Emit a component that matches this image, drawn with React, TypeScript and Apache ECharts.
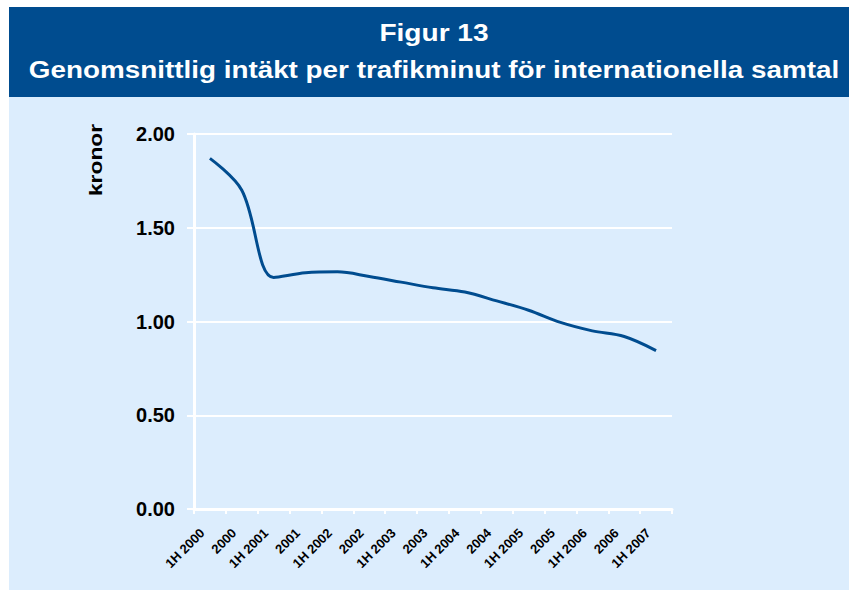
import React, { useEffect, useRef } from "react";
import * as echarts from "echarts";

const categories = [
  "1H 2000", "2000", "1H 2001", "2001", "1H 2002", "2002", "1H 2003", "2003",
  "1H 2004", "2004", "1H 2005", "2005", "1H 2006", "2006", "1H 2007",
];
const values = [1.87, 1.7, 1.235, 1.26, 1.265, 1.24, 1.21, 1.18, 1.157, 1.11, 1.06, 0.995, 0.95, 0.92, 0.845];
const yTicks = { min: 0, max: 2, interval: 0.5 };
const titleLine1 = "Figur 13";
const titleLine2 = "Genomsnittlig intäkt per trafikminut för internationella samtal";
const yName = "kronor";

const FONT = "Liberation Sans, Arial, sans-serif";

export default function App() {
  const ref = useRef<HTMLDivElement>(null);
  useEffect(() => {
    if (!ref.current) return;
    const chart = echarts.init(ref.current, null, { renderer: "svg" });
    chart.setOption({
      animation: false,
      backgroundColor: "#ffffff",
      graphic: [
        { type: "rect", z: -10, shape: { x: 9, y: 7, width: 840, height: 90 }, style: { fill: "#004c8f" } },
        { type: "rect", z: -10, shape: { x: 9, y: 97, width: 840, height: 493 }, style: { fill: "#dcedfd" } },
        {
          type: "text", x: 434, y: 33, scaleX: 1.17, style: {
            text: titleLine1, fill: "#ffffff", font: `bold 24px ${FONT}`, align: "center", verticalAlign: "middle",
          },
        },
        {
          type: "text", x: 434, y: 70, scaleX: 1.16, style: {
            text: titleLine2, fill: "#ffffff", font: `bold 24px ${FONT}`, align: "center", verticalAlign: "middle",
          },
        },
        {
          type: "text", x: 95, y: 160, rotation: Math.PI / 2, scaleX: 1.2, style: {
            text: yName, fill: "#000000", font: `bold 19px ${FONT}`, align: "center", verticalAlign: "middle",
          },
        },
      ],
      grid: { left: 194, right: 177, top: 134, bottom: 81, containLabel: false },
      xAxis: {
        type: "category",
        data: categories,
        boundaryGap: true,
        axisLine: { show: true, lineStyle: { color: "#ffffff", width: 3 } },
        axisTick: { show: true, interval: 0, length: 5, lineStyle: { color: "#ffffff", width: 2 } },
        axisLabel: {
          interval: 0, rotate: 45, margin: 14, color: "#000000",
          fontFamily: FONT, fontWeight: "bold", fontSize: 13,
          padding: [0, 11, 0, 0],
        },
        splitLine: { show: false },
      },
      yAxis: {
        type: "value",
        min: yTicks.min, max: yTicks.max, interval: yTicks.interval,
        axisLine: { show: true, lineStyle: { color: "#ffffff", width: 3 } },
        axisTick: { show: true, length: 7, lineStyle: { color: "#ffffff", width: 2 } },
        axisLabel: {
          margin: 19, color: "#000000", fontFamily: FONT, fontWeight: "bold", fontSize: 20,
          formatter: (v: number) => v.toFixed(2),
        },
        splitLine: { show: true, lineStyle: { color: "#ffffff", width: 2 } },
      },
      series: [
        {
          type: "line",
          data: values,
          smooth: 0.35,
          symbol: "none",
          lineStyle: { color: "#004c8f", width: 3 },
        },
      ],
    });
    return () => chart.dispose();
  }, []);
  return <div ref={ref} style={{ position: "fixed", left: 0, top: 0, width: 849, height: 590 }} />;
}
